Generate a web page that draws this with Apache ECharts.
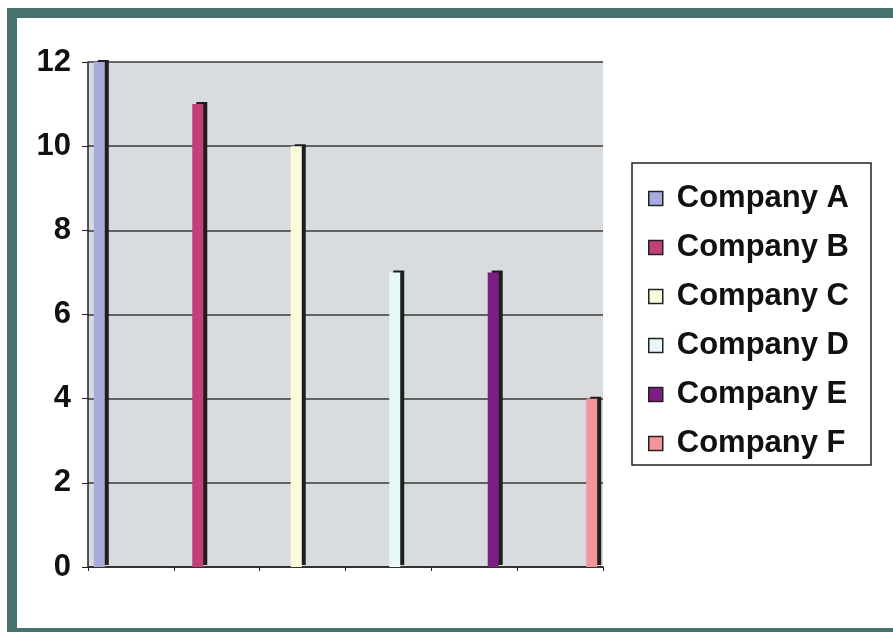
<!DOCTYPE html>
<html>
<head>
<meta charset="utf-8">
<script src="https://cdn.jsdelivr.net/npm/echarts@6/dist/echarts.min.js"></script>
<style>
  html, body { margin: 0; padding: 0; background: #fff; }
  #chart { width: 893px; height: 632px; }
</style>
</head>
<body>
<div id="chart"></div>
<script>
// data
const companies = ['Company A', 'Company B', 'Company C', 'Company D', 'Company E', 'Company F'];
const values = [12, 11, 10, 7, 7, 4];
const yMin = 0, yMax = 12, yStep = 2;

const colors = ['#a9abdf', '#c23f7b', '#fbfbdc', '#e8f7f9', '#7d1f80', '#f4959b'];

let myChart = echarts.init(document.getElementById('chart'));

// one slot per company, each series only fills its own slot
let series = companies.map((name, i) => ({
  name: name,
  type: 'bar',
  data: values.map((v, j) => (j === i ? v : null)),
  barWidth: 11,
  barGap: '15%',
  itemStyle: {
    color: colors[i],
    borderWidth: 0,
    shadowColor: '#1e1e1e',
    shadowBlur: 0,
    shadowOffsetX: 4,
    shadowOffsetY: -2
  }
}));

myChart.setOption({
  animation: false,
  backgroundColor: '#fff',
  color: colors,
  grid: {
    left: 88,
    right: 290,
    top: 62,
    bottom: 65,
    show: true,
    backgroundColor: '#d9dcdf',
    borderWidth: 0
  },
  legend: {
    orient: 'vertical',
    left: 643,
    top: 178,
    itemWidth: 14,
    itemHeight: 14,
    itemGap: 18,
    icon: 'rect',
    itemStyle: {
      borderColor: '#222',
      borderWidth: 1.5,
      shadowBlur: 0,
      shadowOffsetX: 0,
      shadowOffsetY: 0,
      shadowColor: 'transparent'
    },
    textStyle: {
      color: '#111',
      fontSize: 31,
      fontWeight: 'bold',
      fontFamily: 'Liberation Sans',
      padding: [0, 0, 0, 9]
    },
    data: companies
  },
  graphic: [
    // legend box
    {type: 'rect', z: 1, shape: {x: 632, y: 163, width: 239, height: 302},
      style: {fill: '#fff', stroke: '#222', lineWidth: 1.5}},
    // teal frame
    {type: 'rect', z: 10, shape: {x: 7, y: 8, width: 886, height: 10}, style: {fill: '#47716c'}},
    {type: 'rect', z: 10, shape: {x: 7, y: 8, width: 10, height: 624}, style: {fill: '#47716c'}},
    {type: 'rect', z: 10, shape: {x: 7, y: 628, width: 886, height: 4}, style: {fill: '#47716c'}}
  ],
  xAxis: {
    type: 'category',
    data: companies,
    boundaryGap: true,
    axisLine: {lineStyle: {color: '#222', width: 1.5}},
    axisTick: {show: true, interval: 0, length: 4, lineStyle: {color: '#222'}},
    axisLabel: {show: false},
    splitLine: {show: false}
  },
  yAxis: {
    type: 'value',
    min: yMin,
    max: yMax,
    interval: yStep,
    axisLine: {show: true, lineStyle: {color: '#222', width: 1.5}},
    axisTick: {show: true, length: 6, lineStyle: {color: '#222'}},
    axisLabel: {
      margin: 17,
      color: '#111',
      fontSize: 31,
      fontWeight: 'bold',
      fontFamily: 'Liberation Sans'
    },
    splitLine: {show: true, lineStyle: {color: '#3a3a3a', width: 1.5}}
  },
  series: series
});
</script>
</body>
</html>
